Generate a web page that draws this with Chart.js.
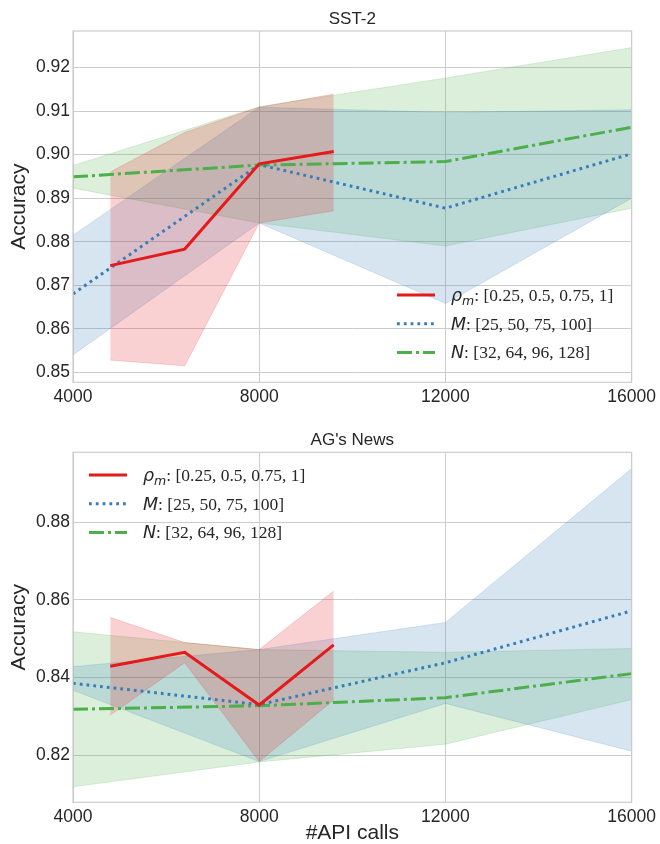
<!DOCTYPE html>
<html>
<head>
<meta charset="utf-8">
<script src="https://cdn.jsdelivr.net/npm/chart.js@4"></script>
<style>
  body { margin: 0; background: #fff; }
  #wrap { position: relative; width: 660px; height: 844px; }
  canvas { position: absolute; left: 0; }
</style>
</head>
<body>
<div id="wrap">
  <canvas id="sstChart" width="660" height="410" style="top:0"></canvas>
  <canvas id="agChart" width="660" height="434" style="top:410px"></canvas>
</div>
<script>
// x positions (#API calls)
const xTicks = [4000, 8000, 12000, 16000];
const rhoX = [4800, 6400, 8000, 9600];
const mnX = [4000, 8000, 12000, 16000];

// SST-2
const sstYTicks = [0.85, 0.86, 0.87, 0.88, 0.89, 0.90, 0.91, 0.92];
const sstRhoMean = [0.8745, 0.8783, 0.8979, 0.9007];
const sstRhoUpper = [0.8960, 0.9051, 0.9109, 0.9139];
const sstRhoLower = [0.8528, 0.8515, 0.8843, 0.8871];
const sstMMean = [0.8680, 0.8977, 0.8877, 0.9002];
const sstMUpper = [0.8815, 0.9109, 0.9097, 0.9103];
const sstMLower = [0.8540, 0.8843, 0.8658, 0.8900];
const sstNMean = [0.8949, 0.8976, 0.8984, 0.9063];
const sstNUpper = [0.8975, 0.9110, 0.9176, 0.9246];
const sstNLower = [0.8923, 0.8843, 0.8790, 0.8877];

// AG's News
const agYTicks = [0.82, 0.84, 0.86, 0.88];
const agRhoMean = [0.8429, 0.8465, 0.8329, 0.8484];
const agRhoUpper = [0.8555, 0.8490, 0.8472, 0.8623];
const agRhoLower = [0.8303, 0.8438, 0.8183, 0.8342];
const agMMean = [0.8385, 0.8330, 0.8438, 0.8572];
const agMUpper = [0.8428, 0.8472, 0.8542, 0.8939];
const agMLower = [0.8367, 0.8183, 0.8333, 0.8210];
const agNMean = [0.8318, 0.8327, 0.8348, 0.8410];
const agNUpper = [0.8518, 0.8472, 0.8465, 0.8475];
const agNLower = [0.8118, 0.8182, 0.8228, 0.8343];

const RED = "228,26,28";
const BLUE = "55,126,184";
const GREEN = "77,175,74";
const dotDash = [2.8, 4];
const dashDot = [15, 4, 3, 4];
const SANS = "'Liberation Sans', Arial, sans-serif";
const TEXT = "#262626";

const legendItems = [
  { rgb: RED, dash: [], sym: "ρ", sub: "m", rest: ": [0.25, 0.5, 0.75, 1]" },
  { rgb: BLUE, dash: dotDash, sym: "M", sub: "", rest: ": [25, 50, 75, 100]" },
  { rgb: GREEN, dash: dashDot, sym: "N", sub: "", rest: ": [32, 64, 96, 128]" }
];

function pts(xs, ys) {
  return xs.map((x, i) => ({ x: x, y: ys[i] }));
}

function series(xs, mean, upper, lower, rgb, dash) {
  return [
    { data: pts(xs, upper), borderColor: `rgba(${rgb},0.22)`, borderWidth: 0.8, pointRadius: 0, fill: false, order: 1 },
    { data: pts(xs, lower), borderColor: `rgba(${rgb},0.22)`, borderWidth: 0.8, backgroundColor: `rgba(${rgb},0.2)`, pointRadius: 0, fill: "-1", order: 1 },
    { data: pts(xs, mean), borderColor: `rgb(${rgb})`, borderWidth: 3, borderDash: dash, pointRadius: 0, fill: false, order: 0 }
  ];
}

function drawLegend(ctx, lx, ly, gap) {
  ctx.save();
  legendItems.forEach((it, i) => {
    const y = ly + i * gap;
    ctx.strokeStyle = `rgb(${it.rgb})`;
    ctx.lineWidth = 3;
    ctx.setLineDash(it.dash);
    ctx.beginPath();
    ctx.moveTo(lx, y);
    ctx.lineTo(lx + 38, y);
    ctx.stroke();
    ctx.setLineDash([]);

    let tx = lx + 54;
    const base = y + 6;
    ctx.fillStyle = TEXT;
    ctx.textBaseline = "alphabetic";
    ctx.textAlign = "left";
    ctx.font = "italic 17.5px 'DejaVu Sans'";
    ctx.fillText(it.sym, tx, base);
    tx += ctx.measureText(it.sym).width;
    if (it.sub) {
      ctx.font = "italic 12.5px 'DejaVu Sans'";
      ctx.fillText(it.sub, tx, base + 3.5);
      tx += ctx.measureText(it.sub).width;
    }
    ctx.font = "17.5px 'Liberation Serif'";
    ctx.fillText(it.rest, tx, base);
  });
  ctx.restore();
}

function makeChart(id, datasets, cfg) {
  const framePlugin = {
    id: "frame",
    afterDatasetsDraw(chart) {
      const a = chart.chartArea;
      const ctx = chart.ctx;
      ctx.save();
      ctx.strokeStyle = "#cccccc";
      ctx.lineWidth = 1.2;
      ctx.strokeRect(a.left, a.top, a.right - a.left, a.bottom - a.top);
      // title centred over the plot area
      ctx.fillStyle = TEXT;
      ctx.font = "17px " + SANS;
      ctx.textAlign = "center";
      ctx.textBaseline = "middle";
      ctx.fillText(cfg.title, (a.left + a.right) / 2, cfg.titleY);
      ctx.restore();
      drawLegend(ctx, cfg.legendX, cfg.legendY, 28.7);
    }
  };

  return new Chart(document.getElementById(id), {
    type: "line",
    data: { datasets: datasets },
    plugins: [framePlugin],
    options: {
      responsive: false,
      animation: false,
      layout: { padding: { left: 0, right: 26.7, top: cfg.top, bottom: 0 } },
      plugins: {
        legend: { display: false },
        tooltip: { enabled: false },
        title: { display: false }
      },
      scales: {
        x: {
          type: "linear",
          min: 4000,
          max: 16000,
          afterBuildTicks: s => { s.ticks = xTicks.map(v => ({ value: v })); },
          afterFit: s => { s.height = cfg.xHeight; },
          grid: { color: "#cccccc", lineWidth: 1, drawTicks: false },
          border: { display: false },
          ticks: {
            color: TEXT, padding: 4, maxRotation: 0, autoSkip: false,
            font: { family: SANS, size: 17.5 },
            callback: v => String(v)
          },
          title: {
            display: cfg.xTitle,
            text: "#API calls",
            color: TEXT,
            font: { family: SANS, size: 21, lineHeight: 1 },
            padding: 0
          }
        },
        y: {
          min: cfg.yMin,
          max: cfg.yMax,
          afterBuildTicks: s => { s.ticks = cfg.yTicks.map(v => ({ value: v })); },
          afterFit: s => { s.width = 73; },
          grid: { color: "#cccccc", lineWidth: 1, drawTicks: false },
          border: { display: false },
          ticks: {
            color: TEXT, padding: 3,
            font: { family: SANS, size: 17.5 },
            callback: v => v.toFixed(2)
          },
          title: {
            display: true,
            text: "Accuracy",
            color: TEXT,
            font: { family: SANS, size: 21, lineHeight: 1.2 },
            padding: { top: 7, bottom: 0 }
          }
        }
      }
    }
  });
}

makeChart("sstChart", [
  ...series(rhoX, sstRhoMean, sstRhoUpper, sstRhoLower, RED, []),
  ...series(mnX, sstMMean, sstMUpper, sstMLower, BLUE, dotDash),
  ...series(mnX, sstNMean, sstNUpper, sstNLower, GREEN, dashDot)
], {
  title: "SST-2", top: 31, titleY: 19, xHeight: 27.7, xTitle: false,
  yMin: 0.8477, yMax: 0.9284, yTicks: sstYTicks,
  legendX: 397, legendY: 295
});

makeChart("agChart", [
  ...series(rhoX, agRhoMean, agRhoUpper, agRhoLower, RED, []),
  ...series(mnX, agMMean, agMUpper, agMLower, BLUE, dotDash),
  ...series(mnX, agNMean, agNUpper, agNLower, GREEN, dashDot)
], {
  title: "AG's News", top: 42.3, titleY: 30, xHeight: 41.7, xTitle: true,
  yMin: 0.8078, yMax: 0.8981, yTicks: agYTicks,
  legendX: 89, legendY: 65
});
</script>
</body>
</html>
